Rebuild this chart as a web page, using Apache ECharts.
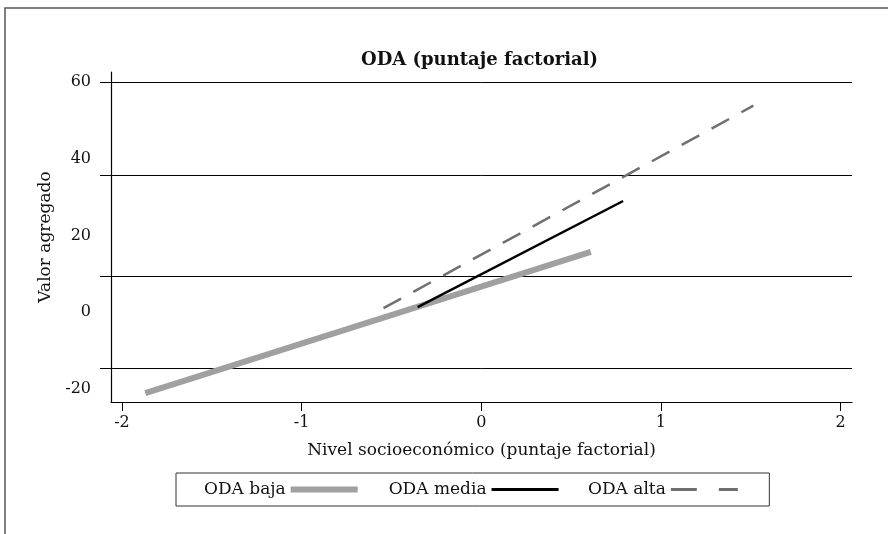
<!DOCTYPE html>
<html>
<head>
<meta charset="utf-8">
<script src="https://cdn.jsdelivr.net/npm/echarts@6/dist/echarts.min.js"></script>
<style>
html, body { margin: 0; padding: 0; background: #fff; }
#chart { width: 888px; height: 534px; }
</style>
</head>
<body>
<div id="chart"></div>
<script>
// data
var seriesNames = ['ODA baja', 'ODA media', 'ODA alta'];
var bajaX = [-1.87, 0.61];
var bajaY = [-21.2, 15.7];
var mediaX = [-0.354, 0.79];
var mediaY = [1.3, 29.0];
var altaX = [-0.544, 1.515];
var altaY = [1.0, 53.9];
var xTicks = [-2, -1, 0, 1, 2];
var yLabels = [-20, 0, 20, 40, 60];
var yGridLines = [-14.8, 9.3, 35.6, 60];

function pairs(xs, ys) {
  return xs.map(function (x, i) { return [x, ys[i]]; });
}

var font = 'DejaVu Serif';
var chart = echarts.init(document.getElementById('chart'));

chart.setOption({
  backgroundColor: '#fff',
  animation: false,
  title: {
    text: 'ODA (puntaje factorial)',
    left: 356,
    top: 46,
    textStyle: { fontFamily: font, fontSize: 18, fontWeight: 'bold', color: '#111' }
  },
  graphic: [{
    type: 'polyline',
    shape: { points: [[5, 534], [5, 8], [888, 8]] },
    style: { stroke: '#555', lineWidth: 1.5, fill: null }
  }],
  legend: {
    data: [
      { name: seriesNames[0], lineStyle: { width: 6 } },
      { name: seriesNames[1], lineStyle: { width: 3 } },
      { name: seriesNames[2], lineStyle: { width: 3, type: [26, 22] } }
    ],
    left: 176,
    top: 473,
    align: 'right',
    padding: [8, 30, 8, 28],
    itemGap: 28,
    itemWidth: 67,
    itemHeight: 14,
    itemStyle: { opacity: 0 },
    borderColor: '#333',
    borderWidth: 1,
    textStyle: { fontFamily: font, fontSize: 17, color: '#111' }
  },
  grid: { left: 111, right: 36, top: 72, bottom: 132 },
  xAxis: {
    type: 'value',
    min: -2.061,
    max: 2.064,
    name: 'Nivel socioeconómico (puntaje factorial)',
    nameLocation: 'middle',
    nameGap: 40,
    nameTextStyle: { fontFamily: font, fontSize: 17, color: '#111' },
    axisLine: { show: true, onZero: false, lineStyle: { color: '#000', width: 1.2 } },
    axisTick: { show: true, inside: false, length: 9, customValues: xTicks, lineStyle: { color: '#000' } },
    axisLabel: { customValues: xTicks, margin: 13, fontFamily: font, fontSize: 16, color: '#111' },
    splitLine: { show: false }
  },
  yAxis: {
    type: 'value',
    min: -23.5,
    max: 62.7,
    name: 'Valor agregado',
    nameLocation: 'middle',
    nameGap: 56,
    nameTextStyle: { fontFamily: font, fontSize: 17, color: '#111' },
    axisLine: { show: true, onZero: false, lineStyle: { color: '#000', width: 1.2 } },
    axisTick: { show: true, inside: false, length: 11, customValues: yGridLines, lineStyle: { color: '#000' } },
    axisLabel: { customValues: yLabels, margin: 20, fontFamily: font, fontSize: 16, color: '#111' },
    splitLine: { show: true, lineStyle: { color: '#000', width: 1 } }
  },
  series: [
    {
      name: seriesNames[0],
      type: 'line',
      data: pairs(bajaX, bajaY),
      showSymbol: false,
      symbol: 'none',
      lineStyle: { color: '#a0a0a0', width: 6 },
      itemStyle: { color: '#a0a0a0' }
    },
    {
      name: seriesNames[1],
      type: 'line',
      data: pairs(mediaX, mediaY),
      showSymbol: false,
      symbol: 'none',
      lineStyle: { color: '#000', width: 2.5 },
      itemStyle: { color: '#000' }
    },
    {
      name: seriesNames[2],
      type: 'line',
      data: pairs(altaX, altaY),
      showSymbol: false,
      symbol: 'none',
      lineStyle: { color: '#707070', width: 2.5, type: [20, 14] },
      itemStyle: { color: '#707070' }
    }
  ]
});
</script>
</body>
</html>
